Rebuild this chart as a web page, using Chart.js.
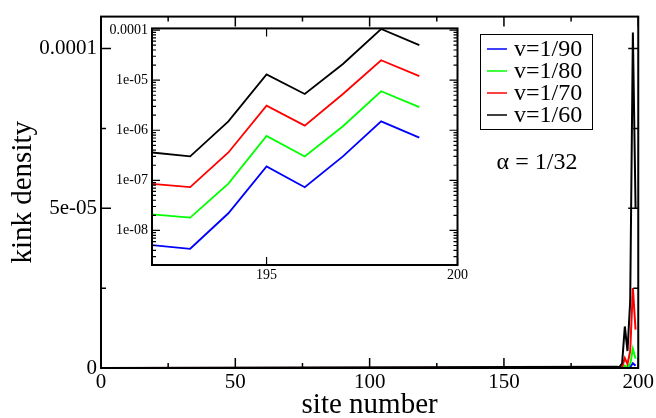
<!DOCTYPE html>
<html>
<head>
<meta charset="utf-8">
<script src="https://cdn.jsdelivr.net/npm/chart.js@4.4.1/dist/chart.umd.min.js"></script>
<style>
html, body { margin:0; padding:0; background:#fff; }
#wrap { position:relative; width:656px; height:418px; }
#main { position:absolute; left:0; top:0; width:656px; height:418px; }
#inset { position:absolute; left:95px; top:16px; width:375px; height:280px; }
</style>
</head>
<body>
<div id="wrap">
  <div id="main"><canvas id="mainChart"></canvas></div>
  <div id="inset"><canvas id="insetChart"></canvas></div>
</div>
<script>
// site numbers and kink density per velocity
const sites = [0, 192, 193, 194, 195, 196, 197, 198, 199];
const v90 = [0, 5.1e-9, 4.3e-9, 2.2e-8, 1.9e-7, 7.3e-8, 3.0e-7, 1.5e-6, 7.1e-7];
const v80 = [0, 2.1e-8, 1.8e-8, 8.6e-8, 7.7e-7, 3.0e-7, 1.2e-6, 6.0e-6, 2.9e-6];
const v70 = [0, 8.5e-8, 7.3e-8, 3.6e-7, 3.1e-6, 1.24e-6, 5.3e-6, 2.5e-5, 1.2e-5];
const v60 = [0, 3.6e-7, 3.0e-7, 1.5e-6, 1.3e-5, 5.3e-6, 2.1e-5, 1.05e-4, 5.0e-5];

const seriesLabels = ['v=1/90', 'v=1/80', 'v=1/70', 'v=1/60'];
const seriesColors = ['#0000ff', '#00ff00', '#ff0000', '#000000'];
const alphaText = 'α = 1/32';

const mainXTicks = [0, 25, 50, 75, 100, 125, 150, 175, 200];
const mainXTickText = ['0', '', '50', '', '100', '', '150', '', '200'];
const mainYTicks = [0, 2.5e-5, 5e-5, 7.5e-5, 1e-4];
const mainYTickText = ['0', '', '5e-05', '', '0.0001'];

const insetXTicks = [195, 200];
const insetXTickText = ['195', '200'];
const insetYLabelTicks = [1e-8, 1e-7, 1e-6, 1e-5, 1e-4];
const insetYLabelText = ['1e-08', '1e-07', '1e-06', '1e-05', '0.0001'];

const FONT = "'Liberation Serif', 'Times New Roman', serif";
Chart.defaults.font.family = FONT;
Chart.defaults.color = '#000';

const allSeries = [v90, v80, v70, v60];

// log ticks: 1..9 per decade inside the inset range
const insetYMin = 2.04e-9, insetYMax = 1.08e-4;
const insetYTicks = [];
const insetYTickText = [];
for (let e = -9; e <= -4; e++) {
    for (let m = 1; m <= 9; m++) {
        const v = m * Math.pow(10, e);
        if (v < insetYMin || v > insetYMax) continue;
        insetYTicks.push(v);
        const k = insetYLabelTicks.findIndex(t => Math.abs(t - v) / t < 1e-6);
        insetYTickText.push(k >= 0 ? insetYLabelText[k] : '');
    }
}

function makeDatasets(fromSite, width) {
    return allSeries.map((vals, i) => ({
        label: seriesLabels[i],
        data: sites.map((s, j) => ({ x: s, y: vals[j] })).filter(p => p.x >= fromSite),
        borderColor: seriesColors[i],
        backgroundColor: seriesColors[i],
        borderWidth: width,
        pointRadius: 0,
        tension: 0,
        order: 3 - i
    }));
}

const frameTicks = {
    id: 'frameTicks',
    beforeDatasetsDraw(chart, args, opts) {
        const { ctx, chartArea: a } = chart;
        ctx.save();
        ctx.fillStyle = '#fff';
        ctx.fillRect(a.left, a.top, a.right - a.left, a.bottom - a.top);
        ctx.restore();
    },
    afterDatasetsDraw(chart, args, opts) {
        const { ctx, chartArea: a } = chart;
        const xs = chart.scales.x, ys = chart.scales.y;
        ctx.save();
        ctx.strokeStyle = '#000';
        ctx.lineWidth = opts.tickWidth;
        ctx.beginPath();
        xs.ticks.forEach(t => {
            const px = xs.getPixelForValue(t.value);
            const len = t.label ? opts.major : opts.minor;
            ctx.moveTo(px, a.bottom); ctx.lineTo(px, a.bottom - len);
            ctx.moveTo(px, a.top); ctx.lineTo(px, a.top + len);
        });
        ys.ticks.forEach(t => {
            const py = ys.getPixelForValue(t.value);
            const len = t.label ? opts.major : opts.minor;
            ctx.moveTo(a.left, py); ctx.lineTo(a.left + len, py);
            ctx.moveTo(a.right, py); ctx.lineTo(a.right - len, py);
        });
        ctx.stroke();
        ctx.lineWidth = opts.lineWidth;
        ctx.strokeRect(a.left, a.top, a.right - a.left, a.bottom - a.top);
        ctx.restore();
    }
};

const legendBox = {
    id: 'legendBox',
    afterDraw(chart) {
        const ctx = chart.ctx;
        ctx.save();
        ctx.strokeStyle = '#000';
        ctx.lineWidth = 1;
        ctx.strokeRect(480.5, 34.5, 112, 95);
        ctx.font = "24px " + FONT;
        ctx.textBaseline = 'middle';
        chart.data.datasets.forEach((ds, i) => {
            const y = 49 + i * 22;
            ctx.strokeStyle = ds.borderColor;
            ctx.lineWidth = 1.5;
            ctx.beginPath();
            ctx.moveTo(487, y); ctx.lineTo(507, y);
            ctx.stroke();
            ctx.fillStyle = '#000';
            ctx.fillText(ds.label, 514, y + 1);
        });
        ctx.textAlign = 'center';
        ctx.fillText(alphaText, 537, 163);
        ctx.restore();
    }
};

new Chart(document.getElementById('mainChart'), {
    type: 'line',
    data: { datasets: makeDatasets(0, 2) },
    options: {
        responsive: true,
        maintainAspectRatio: false,
        animation: false,
        layout: { padding: { top: 8, right: 17, left: 0, bottom: 0 } },
        plugins: {
            legend: { display: false },
            tooltip: { enabled: false },
            frameTicks: { lineWidth: 2, tickWidth: 1.5, major: 10, minor: 5 }
        },
        scales: {
            x: {
                type: 'linear', min: 0, max: 200,
                afterBuildTicks: s => { s.ticks = mainXTicks.map(v => ({ value: v })); },
                afterFit: s => { s.height = 50; },
                grid: { display: false, drawTicks: false },
                border: { display: false },
                ticks: { autoSkip: false, maxRotation: 0, padding: 2, font: { size: 21 },
                    callback: (v, i) => mainXTickText[i] },
                title: { display: true, text: 'site number', font: { size: 29, lineHeight: 0.9 }, padding: 0 }
            },
            y: {
                type: 'linear', min: 0, max: 1.1e-4,
                afterBuildTicks: s => { s.ticks = mainYTicks.map(v => ({ value: v })); },
                afterFit: s => { s.width = 101; },
                grid: { display: false, drawTicks: false },
                border: { display: false },
                ticks: { autoSkip: false, padding: 4, font: { size: 21 },
                    callback: (v, i) => mainYTickText[i] },
                title: { display: true, text: 'kink density', font: { size: 29 }, padding: 6 }
            }
        }
    },
    plugins: [frameTicks, legendBox]
});

new Chart(document.getElementById('insetChart'), {
    type: 'line',
    data: { datasets: makeDatasets(192, 1.8) },
    options: {
        responsive: true,
        maintainAspectRatio: false,
        animation: false,
        layout: { padding: { top: 8, right: 10, left: 0, bottom: 0 } },
        plugins: {
            legend: { display: false },
            tooltip: { enabled: false },
            frameTicks: { lineWidth: 2, tickWidth: 1.2, major: 8, minor: 4 }
        },
        scales: {
            x: {
                type: 'linear', min: 192, max: 200,
                afterBuildTicks: s => { s.ticks = insetXTicks.map(v => ({ value: v })); },
                afterFit: s => { s.height = 31; },
                grid: { display: false, drawTicks: false },
                border: { display: false },
                ticks: { autoSkip: false, maxRotation: 0, padding: 2, font: { size: 14 },
                    callback: (v, i) => insetXTickText[i] }
            },
            y: {
                type: 'logarithmic', min: insetYMin, max: insetYMax,
                afterBuildTicks: s => { s.ticks = insetYTicks.map(v => ({ value: v })); },
                afterFit: s => { s.width = 57; },
                grid: { display: false, drawTicks: false },
                border: { display: false },
                ticks: { autoSkip: false, padding: 4, font: { size: 14 },
                    callback: (v, i) => insetYTickText[i] }
            }
        }
    },
    plugins: [frameTicks]
});
</script>
</body>
</html>
